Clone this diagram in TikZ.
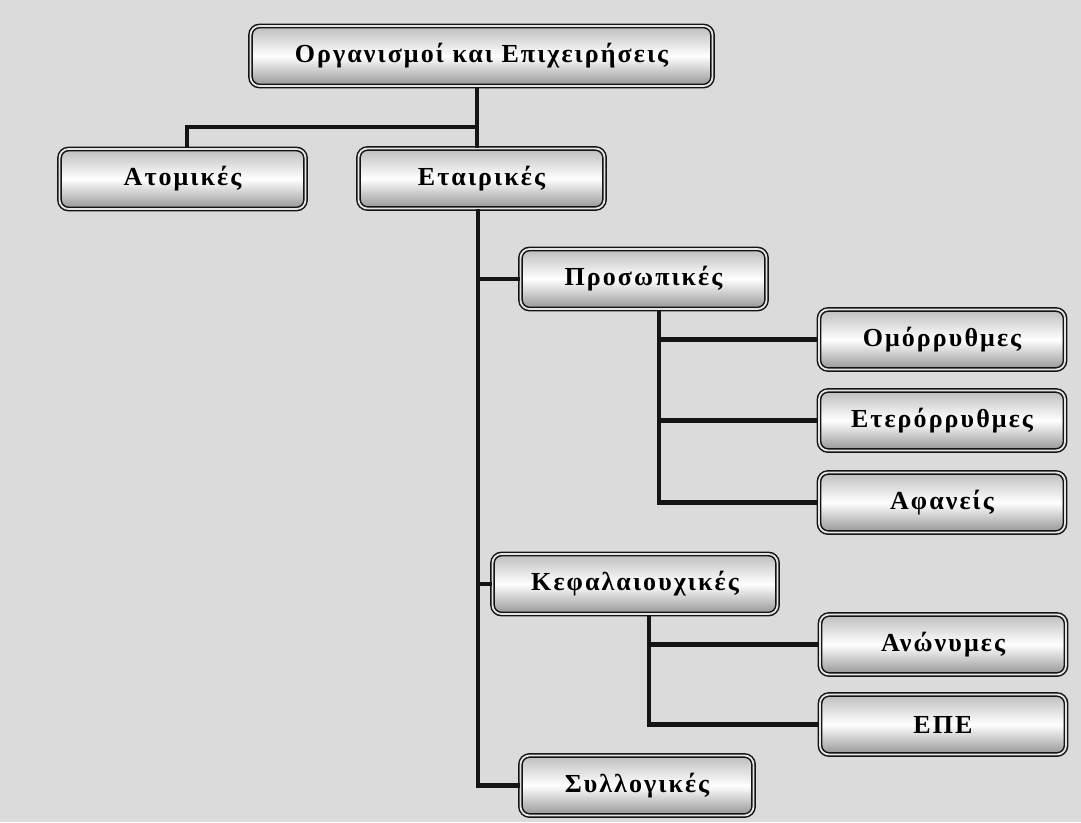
\documentclass[tikz,border=0pt]{standalone}
\usepackage{fontspec}
\newfontfamily\BoxFont[LetterSpace=8]{Liberation Serif}
\usetikzlibrary{calc}
\definecolor{BackClr}{gray}{0.86}
\definecolor{LineClr}{gray}{0.08}
\definecolor{BoxTopClr}{gray}{0.74}
\definecolor{BoxBotClr}{gray}{0.58}

\begin{document}
\begin{tikzpicture}[x=1pt,y=-1pt,
  box/.style={rounded corners=9pt,draw=LineClr,line width=1.5pt,
    double=BoxTopClr!40,double distance=1.8pt,
    top color=BoxTopClr,bottom color=BoxBotClr,middle color=white,
    minimum height=60pt,minimum width=246pt,inner sep=0pt,
    font=\BoxFont\bfseries\fontsize{26}{30}\selectfont},
  link/.style={line width=4.2pt,color=LineClr}]

\fill[BackClr] (0,0) rectangle (1081,822);
\useasboundingbox (0,0) rectangle (1081,822);

\node[box,minimum width=462pt] (org) at (481.5,56) {Οργανισμοί και Επιχειρήσεις};

\node[box] (atom)  at (182.5,179) {Ατομικές};
\node[box] (etair) at (481.5,178.5) {Εταιρικές};

\node[box] (prosop) at (643.5,279) {Προσωπικές};
\node[box,minimum width=285pt] (kefal) at (635,584) {Κεφαλαιουχικές};
\node[box,minimum width=233pt] (syll) at (637,785.5) {Συλλογικές};

\node[box] (omor) at (942,339.5) {Ομόρρυθμες};
\node[box] (eter) at (942,420.5) {Ετερόρρυθμες};
\node[box] (afan) at (942,502.5) {Αφανείς};

\node[box] (anon) at (943,644.5) {Ανώνυμες};
\node[box] (epe)  at (943,724.5) {ΕΠΕ};

\coordinate (split) at (477,127);

\draw[link] ([xshift=-4.5pt]org.south) -- ([xshift=-4.5pt]etair.north);
\draw[link] (split) -| ([xshift=4.5pt]atom.north);

\draw[link] ([xshift=-3.5pt]etair.south) |- (prosop.west);
\draw[link] ([xshift=-3.5pt]etair.south) |- (kefal.west);
\draw[link] ([xshift=-3.5pt]etair.south) |- (syll.west);

\draw[link] ([xshift=15.5pt]prosop.south) |- (omor.west);
\draw[link] ([xshift=15.5pt]prosop.south) |- (eter.west);
\draw[link] ([xshift=15.5pt]prosop.south) |- (afan.west);

\draw[link] ([xshift=14pt]kefal.south) |- (anon.west);
\draw[link] ([xshift=14pt]kefal.south) |- (epe.west);

\end{tikzpicture}
\end{document}
